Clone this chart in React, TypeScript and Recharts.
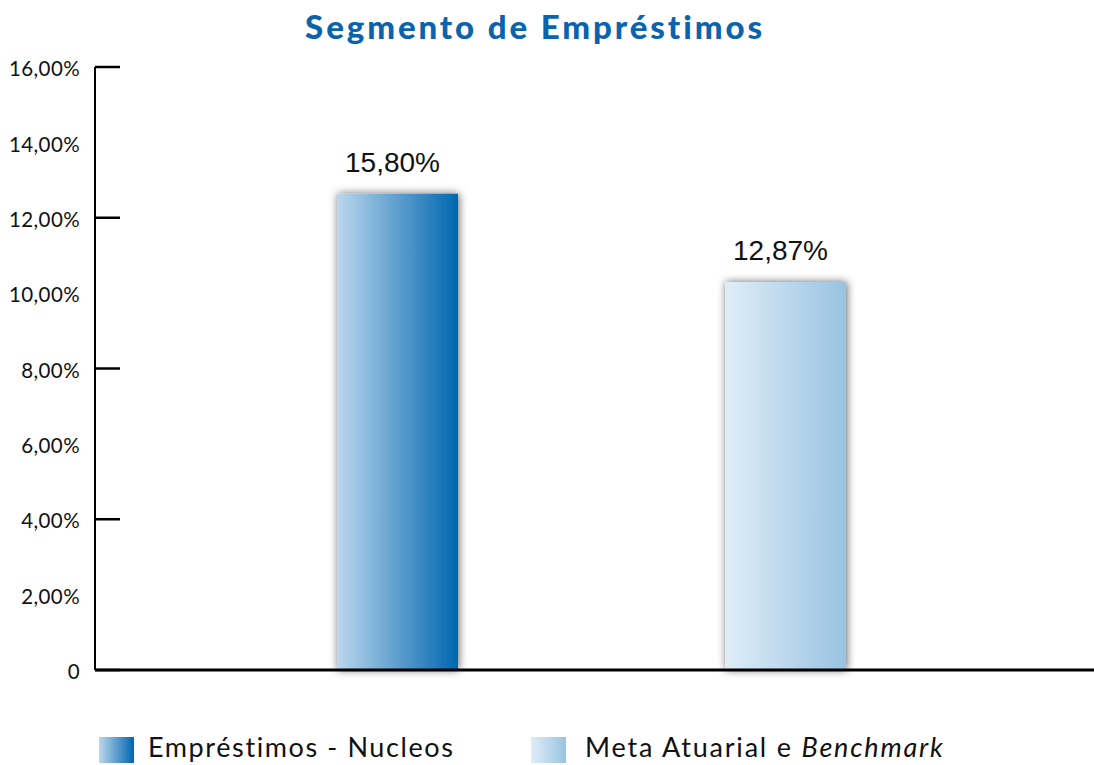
import { BarChart, Bar, XAxis, YAxis, Cell, LabelList, ReferenceLine } from 'recharts';

const categories = ['Empréstimos - Nucleos', 'Meta Atuarial e Benchmark'];
const values = [15.8, 12.87];
const valueLabels = ['15,80%', '12,87%'];
const yTicks = [0, 2.5, 5, 7.5, 10, 12.5, 15, 17.5, 20];
const yTickLabels = ['0', '2,00%', '4,00%', '6,00%', '8,00%', '10,00%', '12,00%', '14,00%', '16,00%'];

const gradients = [
  { id: 'gradNucleos', from: '#bcd7ec', to: '#0066b0' },
  { id: 'gradMeta', from: '#e0edf7', to: '#98c3e2' },
];

const data = categories.map((name, i) => ({ name, value: values[i], label: valueLabels[i] }));

function YTick(props: any) {
  const { y, payload, index } = props;
  return (
    <g>
      <text x={80} y={y + 4} textAnchor="end" dominantBaseline="middle" fontFamily="Lato, 'Noto Sans', sans-serif" fontSize={20.5} fill="#111" letterSpacing={0.4}>
        {yTickLabels[yTicks.indexOf(payload.value)]}
      </text>
      {index % 2 === 0 && <line x1={95} x2={120} y1={y} y2={y} stroke="#000" strokeWidth={2.5} />}
    </g>
  );
}

function ValueLabel(props: any) {
  const { x, y, width, value } = props;
  return (
    <text x={x + width / 2 - 5} y={y - 22} textAnchor="middle" fontFamily="Arial, 'Liberation Sans', sans-serif" fontSize={28} fill="#111">
      {value}
    </text>
  );
}

function Legendary() {
  return (
    <div style={{ position: 'absolute', left: 0, top: 728, width: 1094, height: 37 }}>
      {categories.map((c, i) => {
        const left = i === 0 ? 99 : 531;
        return (
          <div key={c} style={{ position: 'absolute', left, top: 0, display: 'flex', alignItems: 'center' }}>
            <div style={{ width: 35, height: 26, marginTop: 7, background: `linear-gradient(to right, ${gradients[i].from}, ${gradients[i].to})` }} />
            <span style={{ marginLeft: i === 0 ? 14 : 19, fontFamily: 'Lato, sans-serif', fontSize: 27, letterSpacing: i === 0 ? 1.6 : 1.8, color: '#111', whiteSpace: 'nowrap', lineHeight: '37px' }}>
              {i === 0 ? c : (<>Meta Atuarial e <i>Benchmark</i></>)}
            </span>
          </div>
        );
      })}
    </div>
  );
}

export default function App() {
  return (
    <div style={{ position: 'absolute', left: 0, top: 0, width: 1094, height: 765, background: '#fff' }}>
      <div style={{ position: 'absolute', left: 0, top: 6, width: 1070, textAlign: 'center', fontFamily: 'Lato, sans-serif', fontWeight: 900, fontSize: 33, color: '#0a64ad', letterSpacing: 2.9 }}>
        Segmento de Empréstimos
      </div>
      <BarChart width={1094} height={765} data={data} margin={{ top: 67, right: 0, bottom: 95, left: 0 }} barSize={121}>
        <defs>
          {gradients.map((g) => (
            <linearGradient key={g.id} id={g.id} x1="0" y1="0" x2="1" y2="0">
              <stop offset="0%" stopColor={g.from} />
              <stop offset="100%" stopColor={g.to} />
            </linearGradient>
          ))}
          <filter id="barShadow" x="-20%" y="-10%" width="140%" height="120%">
            <feDropShadow dx="1" dy="0" stdDeviation="4" floodColor="#000" floodOpacity="0.6" />
          </filter>
        </defs>
        <XAxis dataKey="name" height={0} tick={false} tickLine={false} axisLine={false} padding={{ left: 108, right: 115 }} />
        <YAxis width={95} domain={[0, 20]} ticks={yTicks} interval={0} tick={<YTick />} tickLine={false} axisLine={{ stroke: '#000', strokeWidth: 2 }} />
        <Bar dataKey="value" isAnimationActive={false} filter="url(#barShadow)">
          {data.map((d, i) => (
            <Cell key={d.name} fill={`url(#${gradients[i].id})`} />
          ))}
          <LabelList dataKey="label" content={<ValueLabel />} />
        </Bar>
        <ReferenceLine y={0} stroke="#000" strokeWidth={3} ifOverflow="visible" />
      </BarChart>
      <Legendary />
    </div>
  );
}
